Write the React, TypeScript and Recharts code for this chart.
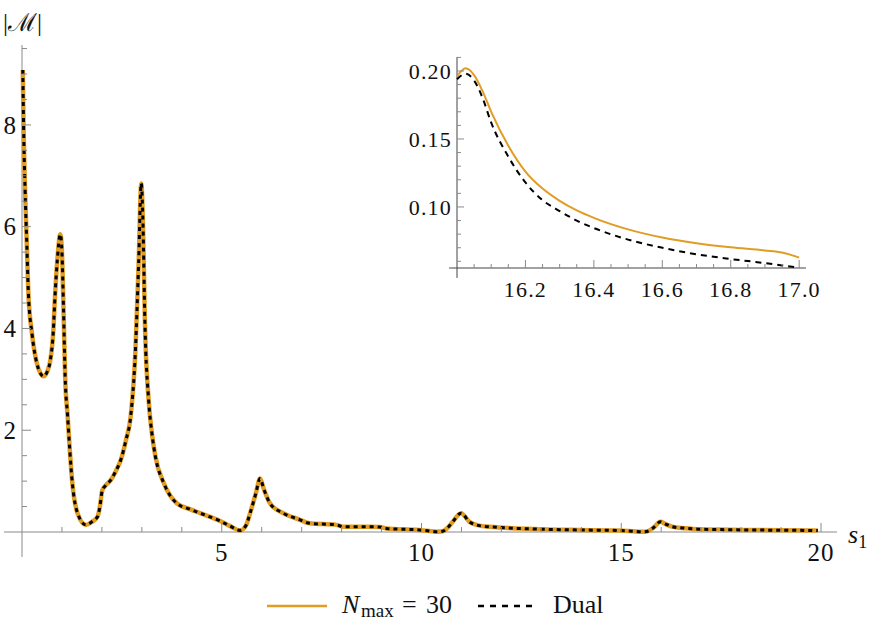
import React from "react";
import { LineChart, Line, XAxis, YAxis, ReferenceLine } from "recharts";

// main panel: |M| against s1
const sMain = [
  0.02, 0.04, 0.08, 0.12, 0.16, 0.25, 0.37, 0.46, 0.54, 0.63, 0.71, 0.78, 0.83, 0.88, 0.96, 1.0, 1.04,
  1.08, 1.14, 1.26, 1.39, 1.6, 1.75, 1.89, 1.95, 2.01, 2.1, 2.22, 2.35, 2.47, 2.6, 2.72, 2.84, 2.92,
  2.985, 3.03, 3.075, 3.17, 3.25, 3.34, 3.55, 3.88, 4.2, 4.46, 4.96, 5.2, 5.46, 5.6, 5.71, 5.85, 5.96,
  6.05, 6.21, 6.54, 6.96, 7.2, 7.87, 8.03, 8.95, 9.12, 9.95, 10.2, 10.37, 10.53, 10.65, 10.78, 10.99,
  11.2, 11.45, 11.94, 12.78, 13.94, 14.94, 15.3, 15.52, 15.64, 15.8, 15.98, 16.1, 16.27, 16.6, 16.93,
  17.5, 18.1, 19.0, 19.92,
];
const mMain = [
  9.08, 7.96, 6.65, 5.67, 4.69, 3.9, 3.32, 3.12, 3.06, 3.15, 3.38, 3.9, 4.69, 5.3, 5.85, 5.5, 4.36,
  3.05, 2.3, 0.96, 0.37, 0.14, 0.2, 0.3, 0.5, 0.82, 0.92, 1.02, 1.2, 1.41, 1.8, 2.27, 3.58, 5.3,
  6.85, 6.0, 4.17, 2.59, 1.95, 1.48, 0.96, 0.56, 0.45, 0.37, 0.215, 0.12, 0.03, 0.12, 0.37, 0.75, 1.05,
  0.85, 0.56, 0.37, 0.24, 0.17, 0.14, 0.105, 0.1, 0.07, 0.04, 0.02, 0.005, 0.015, 0.08, 0.2, 0.37,
  0.2, 0.125, 0.09, 0.06, 0.04, 0.03, 0.015, 0.005, 0.01, 0.08, 0.2, 0.16, 0.105, 0.075, 0.055,
  0.047, 0.04, 0.035, 0.03,
];

// inset: zoom on 16 < s1 < 17
const sInset = [16.0, 16.025, 16.05, 16.075, 16.1, 16.15, 16.2, 16.25, 16.3, 16.35, 16.4, 16.5, 16.6, 16.7, 16.8, 16.9, 16.95, 17.0];
const nmaxInset = [0.196, 0.202, 0.197, 0.185, 0.17, 0.145, 0.126, 0.1135, 0.1045, 0.0975, 0.092, 0.0835, 0.0775, 0.0733, 0.0703, 0.068, 0.0665, 0.0627];
const dualInset = [0.194, 0.198, 0.193, 0.18, 0.162, 0.137, 0.118, 0.105, 0.097, 0.09, 0.0845, 0.076, 0.07, 0.0652, 0.0617, 0.0587, 0.057, 0.0554];

const xTicksMain = [1, 2, 3, 4, 5, 6, 7, 8, 9, 10, 11, 12, 13, 14, 15, 16, 17, 18, 19, 20];
const xMajorMain = [5, 10, 15, 20];
const yTicksMain = [0.5, 1, 1.5, 2, 2.5, 3, 3.5, 4, 4.5, 5, 5.5, 6, 6.5, 7, 7.5, 8, 8.5, 9, 9.5];
const yMajorMain = [2, 4, 6, 8];

const xTicksInset = [16.05, 16.1, 16.15, 16.2, 16.25, 16.3, 16.35, 16.4, 16.45, 16.5, 16.55, 16.6, 16.65, 16.7, 16.75, 16.8, 16.85, 16.9, 16.95, 17.0];
const xMajorInset = [16.2, 16.4, 16.6, 16.8, 17.0];
const yTicksInset = [0.06, 0.07, 0.08, 0.09, 0.1, 0.11, 0.12, 0.13, 0.14, 0.15, 0.16, 0.17, 0.18, 0.19, 0.2, 0.21];
const yMajorInset = [0.1, 0.15, 0.2];

const ORANGE = "#E19C24";
const AXIS = "#8a8a8a";
const FONT = "'Liberation Serif', 'DejaVu Serif', serif";

const isIn = (list: number[], v: number) => list.some((m) => Math.abs(m - v) < 1e-9);

function makeXTick(majors: number[], majLen: number, minLen: number, dy: number, size: number, digits: number, spacing: number) {
  return (props: any) => {
    const { x, y, payload } = props;
    const major = isIn(majors, payload.value);
    return (
      <g>
        <line x1={x} x2={x} y1={y} y2={y - (major ? majLen : minLen)} stroke={AXIS} strokeWidth={1} />
        {major && (
          <text x={x} y={y + dy} textAnchor="middle" fontSize={size} letterSpacing={spacing} fontFamily={FONT} fill="#111">
            {payload.value.toFixed(digits)}
          </text>
        )}
      </g>
    );
  };
}

function makeYTick(majors: number[], majLen: number, minLen: number, dx: number, size: number, digits: number, spacing: number) {
  return (props: any) => {
    const { x, y, payload } = props;
    const major = isIn(majors, payload.value);
    return (
      <g>
        <line x1={x} x2={x + (major ? majLen : minLen)} y1={y} y2={y} stroke={AXIS} strokeWidth={1} />
        {major && (
          <text x={x - dx} y={y} dy="0.35em" textAnchor="end" fontSize={size} letterSpacing={spacing} fontFamily={FONT} fill="#111">
            {payload.value.toFixed(digits)}
          </text>
        )}
      </g>
    );
  };
}

export default function App() {
  const mainData = sMain.map((s, i) => ({ s, nmax: mMain[i], dual: mMain[i] }));
  const insetData = sInset.map((s, i) => ({ s, nmax: nmaxInset[i], dual: dualInset[i] }));

  return (
    <div style={{ position: "absolute", left: 0, top: 0, width: 872, height: 628, background: "#fff", fontFamily: FONT }}>
      <div style={{ position: "absolute", left: 0, top: 0 }}>
        <LineChart width={872} height={628} data={mainData} margin={{ top: 45, right: 35, bottom: 66, left: 0 }}>
          <XAxis
            dataKey="s"
            type="number"
            domain={[0, 20.4]}
            ticks={xTicksMain}
            interval={0}
            axisLine={false}
            tickLine={false}
            tickSize={0}
            tickMargin={0}
            height={30}
            tick={makeXTick(xMajorMain, 9, 5, 29, 25, 0, 1)}
          />
          <YAxis
            type="number"
            domain={[0, 9.57]}
            ticks={yTicksMain}
            interval={0}
            axisLine={false}
            tickLine={false}
            tickSize={0}
            tickMargin={0}
            width={22}
            tick={makeYTick(yMajorMain, 9, 5, 6, 25, 0, 0)}
          />
          <ReferenceLine segment={[{ x: -0.45, y: 0 }, { x: 20.4, y: 0 }]} stroke={AXIS} strokeWidth={1} ifOverflow="visible" />
          <ReferenceLine segment={[{ x: 0, y: -0.49 }, { x: 0, y: 9.57 }]} stroke={AXIS} strokeWidth={1} ifOverflow="visible" />
          <Line dataKey="nmax" type="monotone" stroke={ORANGE} strokeWidth={4.5} dot={false} isAnimationActive={false} />
          <Line dataKey="dual" type="monotone" stroke="#000" strokeWidth={3} strokeDasharray="4 4" dot={false} isAnimationActive={false} />
        </LineChart>
      </div>

      <div style={{ position: "absolute", left: 380, top: 40 }}>
        <LineChart width={440} height={280} data={insetData} margin={{ top: 17, right: 14, bottom: 22, left: 0 }}>
          <XAxis
            dataKey="s"
            type="number"
            domain={[16.0, 17.02]}
            ticks={xTicksInset}
            interval={0}
            axisLine={false}
            tickLine={false}
            tickSize={0}
            tickMargin={0}
            height={30}
            tick={makeXTick(xMajorInset, 8, 4, 29, 22, 1, 1.2)}
          />
          <YAxis
            type="number"
            domain={[0.0551, 0.2103]}
            ticks={yTicksInset}
            interval={0}
            axisLine={false}
            tickLine={false}
            tickSize={0}
            tickMargin={0}
            width={77}
            tick={makeYTick(yMajorInset, 7, 4, 5, 22, 2, 1.2)}
          />
          <ReferenceLine segment={[{ x: 15.977, y: 0.0551 }, { x: 17.02, y: 0.0551 }]} stroke="#444" strokeWidth={1} ifOverflow="visible" />
          <ReferenceLine segment={[{ x: 16.0, y: 0.0478 }, { x: 16.0, y: 0.2103 }]} stroke="#444" strokeWidth={1} ifOverflow="visible" />
          <Line dataKey="nmax" type="monotone" stroke={ORANGE} strokeWidth={2} dot={false} isAnimationActive={false} />
          <Line dataKey="dual" type="monotone" stroke="#000" strokeWidth={2} strokeDasharray="6 5" dot={false} isAnimationActive={false} />
        </LineChart>
      </div>

      <svg width={872} height={628} style={{ position: "absolute", left: 0, top: 0, pointerEvents: "none" }}>
        <text x={3} y={31} fontSize={25} fontFamily={FONT} fill="#111">|ℳ|</text>
        <text x={848} y={543} fontSize={26} fontFamily={FONT} fill="#111">
          <tspan fontStyle="italic">s</tspan>
          <tspan fontSize={18} dy={5}>1</tspan>
        </text>
        <line x1={267} x2={327} y1={606} y2={606} stroke={ORANGE} strokeWidth={2.5} />
        <text y={613} fontSize={26} fontFamily={FONT} fill="#111">
          <tspan x={342} fontStyle="italic">N</tspan>
          <tspan x={361} fontSize={19} dy={4}>max</tspan>
          <tspan x={402} dy={-4}>=</tspan>
          <tspan x={426}>30</tspan>
        </text>
        <line x1={478} x2={533} y1={606} y2={606} stroke="#000" strokeWidth={2.5} strokeDasharray="6 6" />
        <text x={553} y={613} fontSize={26} fontFamily={FONT} fill="#111">Dual</text>
      </svg>
    </div>
  );
}
